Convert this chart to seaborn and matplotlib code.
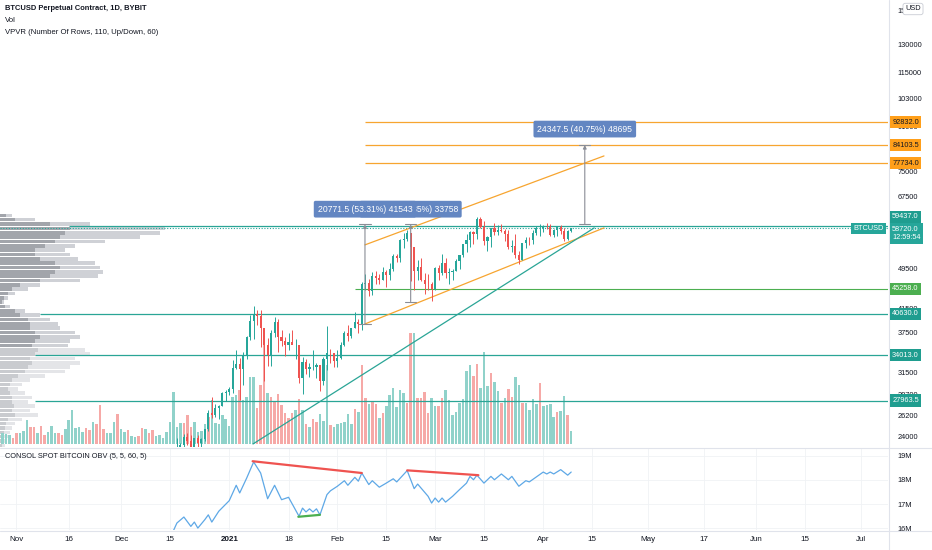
import numpy as np
import pandas as pd
import matplotlib
matplotlib.use("Agg")
import matplotlib.pyplot as plt
from matplotlib.lines import Line2D
from matplotlib.ticker import NullLocator
import seaborn as sns

# ---------------------------------------------------------------
# Data (x = days counted from 1 Jan 2021)
# ---------------------------------------------------------------
vol_start_day = -66
volume = [12, 11, 10, 9, 6, 11, 11, 13, 24, 17, 17, 11, 18, 9, 12, 18, 11, 11, 9, 15,
          24, 34, 16, 17, 12, 16, 14, 22, 20, 39, 15, 11, 11, 22, 30, 15, 12, 14, 8, 7,
          8, 16, 15, 11, 14, 8, 9, 6, 12, 22, 52, 17, 21, 21, 29, 17, 22, 12, 13, 20,
          27, 44, 21, 20, 29, 25, 18, 47, 49, 54, 44, 47, 67, 67, 36, 59, 111, 51, 47, 42,
          50, 39, 31, 26, 31, 34, 45, 34, 20, 17, 25, 22, 30, 23, 79, 19, 17, 20, 21, 22,
          30, 20, 35, 32, 79, 46, 40, 43, 40, 26, 31, 38, 49, 56, 37, 54, 51, 41, 111, 111,
          46, 46, 52, 31, 46, 38, 38, 46, 54, 44, 29, 32, 41, 45, 73, 79, 68, 80, 56, 92,
          58, 71, 62, 53, 41, 46, 55, 47, 67, 59, 41, 41, 34, 45, 40, 61, 38, 39, 40, 27,
          32, 33, 48, 29, 13]
vol_dir = ("rgggrrgggrrgrrgggrrggggggrrgrrrgggrggrggrrgrrggggggggrrrgg"
           "ggrggggggggrggggrrrgrrrrrrrgrgrgrrgggrggggggrgrrgrrgrggggggrr"
           "grrrrggrrggggggggrrgggrggrgrrggrggggrggggrgg")

candle_start_day = -16
opens = [19430, 21310, 22800, 23130, 23860, 23480, 22740, 23820, 23240, 23730, 24710, 26490,
         26280, 27080, 27360, 28890, 29000, 29380, 32130, 32780, 31970, 33990, 36820, 39370,
         40670, 40240, 38240, 35540, 34010, 37390, 39150, 36830, 36070, 35550, 36020, 35540,
         35600, 30810, 33000, 32100, 32280, 32370, 32570, 30430, 33470, 34320, 34290, 33110,
         33540, 35510, 37470, 36930, 38290, 39260, 38900, 46200, 46480, 44920, 47910, 47500,
         47100, 48720, 47940, 49200, 52150, 51680, 55890, 56100, 57540, 54200, 48820, 49700,
         47070, 46300, 46150, 45240, 49610, 48380, 50540, 48370, 48760, 48880, 50970, 52380,
         54880, 55960, 57750, 57230, 61190, 59000, 55640, 56470, 58810, 57870, 58350, 58110,
         57400, 54090, 54340, 52300, 51300, 55070, 55840, 55780, 57630, 58730, 58920, 59100,
         59000, 57080, 58200, 59130, 57990, 56000, 58090]
highs = [21560, 23750, 23290, 24170, 24280, 24100, 23830, 24110, 23790, 24770, 26870, 28400,
         27500, 27400, 28990, 29300, 29650, 33300, 34780, 33650, 34500, 36950, 40380, 41950,
         41400, 41400, 38300, 36600, 37850, 40100, 39700, 37900, 36800, 37400, 37850, 36400,
         35600, 33800, 33500, 32900, 34800, 32900, 32570, 33800, 38500, 34900, 34300, 34700,
         36000, 37700, 38700, 38300, 40900, 39700, 46700, 48200, 47300, 48600, 48900, 48200,
         49700, 49000, 50600, 52600, 52500, 56200, 57500, 58350, 57540, 54200, 51300, 51800,
         48400, 48300, 46550, 49800, 50200, 52600, 51800, 49500, 49200, 51400, 52400, 54900,
         57300, 58100, 58000, 61800, 61600, 60600, 56900, 58900, 60000, 59500, 59900, 58600,
         58400, 55800, 57200, 53200, 55100, 56600, 56600, 58400, 59400, 59800, 59500, 60100,
         59800, 58500, 59300, 59500, 58700, 58200, 58900]
lows = [19300, 21240, 22350, 22780, 23070, 21900, 22380, 22700, 22700, 23450, 24500, 25900,
        26100, 25880, 27320, 27900, 28700, 28950, 32000, 28000, 29900, 33400, 36300, 36500,
        38700, 35200, 30400, 32500, 32400, 36700, 34400, 35400, 33900, 34800, 35900, 33400,
        30100, 28800, 31400, 30900, 31900, 30800, 29200, 29900, 31900, 32900, 32300, 32300,
        33450, 35400, 36200, 36600, 38200, 37400, 37900, 45000, 43800, 44100, 46300, 46200,
        47000, 45600, 47100, 48900, 50900, 50900, 53900, 55500, 46800, 45000, 47100, 46900,
        44200, 45100, 43000, 45000, 47100, 48100, 47500, 46300, 47100, 48800, 49300, 51900,
        53100, 54300, 55000, 56100, 58900, 54600, 53300, 54200, 57100, 57000, 57900, 55500,
        53700, 53000, 51700, 50400, 51300, 53900, 54700, 54900, 57000, 56900, 57900, 58500,
        56900, 56600, 56800, 57300, 55500, 55800, 57700]
closes = [21310, 22800, 23130, 23860, 23480, 22740, 23820, 23240, 23730, 24710, 26490, 26280,
          27080, 27360, 28890, 29000, 29380, 32130, 32780, 31970, 33990, 36820, 39370, 40670,
          40240, 38240, 35540, 34010, 37390, 39150, 36830, 36070, 35550, 36020, 35540, 35600,
          30810, 33000, 32100, 32280, 32370, 32570, 30430, 33470, 34320, 34290, 33110, 33540,
          35510, 37470, 36930, 38290, 39260, 38900, 46200, 46480, 44920, 47910, 47500, 47100,
          48720, 47940, 49200, 52150, 51680, 55890, 56100, 57540, 54200, 48820, 49700, 47070,
          46300, 46150, 45240, 49610, 48380, 50540, 48370, 48760, 48880, 50970, 52380, 54880,
          55960, 57750, 57230, 61190, 59000, 55640, 56470, 58810, 57870, 58350, 58110, 57400,
          54090, 54340, 52300, 51300, 55070, 55840, 55780, 57630, 58730, 58920, 59100, 59000,
          57080, 58200, 59130, 57990, 56000, 58090, 58720]

# visible-range volume profile, rows from top (62.8k) to bottom (22.9k)
vp_price_top = 62800
vp_price_bottom = 22890
vp_total = [12, 35, 90, 165, 160, 140, 105, 75, 65, 70, 78, 95, 100, 103, 98, 80, 40, 28,
            15, 8, 4, 10, 25, 40, 50, 58, 60, 75, 80, 70, 68, 85, 90, 75, 80, 70, 65, 45,
            30, 22, 18, 25, 32, 28, 35, 30, 38, 22, 15, 12, 10, 8, 6, 5]
vp_up = [6, 15, 50, 70, 65, 60, 55, 45, 35, 35, 40, 55, 60, 55, 50, 40, 20, 12,
         8, 4, 2, 5, 15, 20, 28, 30, 30, 35, 40, 35, 32, 38, 35, 30, 32, 28, 25, 18,
         12, 10, 8, 10, 12, 12, 14, 12, 15, 8, 6, 5, 4, 3, 2, 2]

obv_days = [-16, -15, -13, -11, -10, -9, -7, -6, -5, -3, 0, 2, 3, 5, 7, 9, 11, 13, 15, 17,
            20, 21, 22, 23, 24, 25, 26, 28, 29, 31, 33, 34, 36, 37, 38, 40, 41, 43, 45, 47,
            48, 51, 53, 54, 57, 58, 59, 60, 61, 62, 64, 66, 68, 69, 70, 71, 73, 75, 76, 78,
            80, 81, 83, 85, 86, 90, 91, 92, 93, 95, 97, 98]
obv_vals = [15.89, 16.21, 16.46, 16.07, 16.25, 16.0, 16.35, 16.55, 16.25, 16.7, 17.14, 17.78,
            17.46, 18.08, 18.75, 18.29, 17.22, 17.78, 17.18, 17.28, 16.49, 16.83, 16.67, 16.8,
            16.67, 16.8, 16.55, 17.39, 17.55, 17.74, 17.97, 17.78, 18.11, 17.95, 18.29, 17.81,
            17.97, 17.7, 17.87, 18.05, 17.92, 18.39, 17.64, 17.83, 17.32, 17.04, 17.25, 17.08,
            17.25, 17.08, 17.32, 17.6, 17.87, 18.15, 18.01, 18.2, 17.87, 18.15, 18.01, 18.25,
            18.01, 18.15, 17.74, 17.97, 17.92, 18.33, 18.25, 18.33, 18.25, 18.43, 18.2, 18.33]
obv_red_1 = ([6.7, 38.0], [18.78, 18.29])
obv_red_2 = ([51.0, 71.4], [18.40, 18.20])
obv_green = ([19.8, 26.0], [16.47, 16.55])

orange_levels = [92832.0, 84103.5, 77734.0]
teal_levels = [40630.0, 34013.0, 27963.5]
teal_level_start = [-54.3, -55.7, -55.7]
green_level = 45258.0
resist_level = 59437.0
last_price = 58720.0

channel_days = [38.9, 107.4]
channel_top = [54700, 80250]
channel_bottom = [38900, 58850]
trend_days = [6.8, 104.6]
trend_prices = [23190, 58850]

measure_days = [38.9, 52.0, 101.9]
measure_from = [38958.0, 42850.0, 59756.0]
measure_to = [59729.5, 59729.0, 84103.5]
measure_text = ["20771.5 (53.31%) 41543", "16879.0 (39.35%) 33758", "24347.5 (40.75%) 48695"]

price_ticks = [24000, 26200, 28700, 31500, 37500, 41500, 49500,
               67500, 75000, 91000, 103000, 115000, 130000, 150000]
date_ticks = [-61, -46, -31, -17, 0, 17, 31, 45, 59, 73, 90, 104, 120, 136, 151, 165, 181]
date_labels = ["Nov", "16", "Dec", "15", "2021", "18", "Feb", "15", "Mar", "15",
               "Apr", "15", "May", "17", "Jun", "15", "Jul"]

# ---------------------------------------------------------------
# Style
# ---------------------------------------------------------------
sns.set_theme(style="white")
plt.rcParams["font.family"] = ["Liberation Sans", "DejaVu Sans"]

UP, DOWN = "#26a69a", "#ef5350"
TEXT = "#131722"
ORANGE = "#f7a530"
TEAL = "#2aa596"
GREEN = "#4caf50"
GRID = "#f0f2f5"
BORDER = "#e0e3eb"
W, H = 932, 550
X_LEFT, X_RIGHT = -65.7, 188.8


def rect(x0, y0, x1, y1):
    return [x0 / W, 1 - y1 / H, (x1 - x0) / W, (y1 - y0) / H]


fig = plt.figure(figsize=(W / 100, H / 100), dpi=100)
fig.patch.set_facecolor("white")

ax = fig.add_axes(rect(0, 0, 888, 447))
ax.set_yscale("log")
axv = ax.twinx()   # volume overlay
axp = ax.twiny()   # visible range volume profile
axp.set_zorder(0)
axv.set_zorder(1)
ax.set_zorder(2)
ax.patch.set_visible(False)
axv.patch.set_visible(False)
axp.patch.set_facecolor("white")

axo = fig.add_axes(rect(0, 448, 888, 530), sharex=ax)

for a in (ax, axv, axp, axo):
    for s in a.spines.values():
        s.set_visible(False)

ax.set_xlim(X_LEFT, X_RIGHT)
ax.set_ylim(vp_price_bottom, 157150)

# ---------------- volume profile ----------------
edges = np.geomspace(vp_price_bottom, vp_price_top, len(vp_total) + 1)
tot = np.array(vp_total[::-1], dtype=float)
upv = np.array(vp_up[::-1], dtype=float)

# value area: 70% of volume around the point of control
inside = np.zeros(len(tot), dtype=bool)
lo = hi = int(np.argmax(tot))
inside[lo] = True
acc = tot[lo]
while acc < 0.7 * tot.sum():
    below = tot[lo - 1] if lo > 0 else -1
    above = tot[hi + 1] if hi < len(tot) - 1 else -1
    if above >= below:
        hi += 1
        acc += tot[hi]
        inside[hi] = True
    else:
        lo -= 1
        acc += tot[lo]
        inside[lo] = True

row_h = np.diff(edges) * 0.8
axp.barh(edges[:-1], tot, height=row_h, align="edge", linewidth=0,
         color=np.where(inside, "#cfd1d6", "#e4e5e8"))
axp.barh(edges[:-1], upv, height=row_h, align="edge", linewidth=0,
         color=np.where(inside, "#a2a5ab", "#c9cbcf"))
axp.set_xlim(0, 888)
axp.tick_params(axis="both", which="both", top=False, bottom=False, left=False, right=False,
                labeltop=False, labelbottom=False, labelleft=False, labelright=False)
axp.grid(axis="y", color=GRID, lw=0.6)
axp.set_axisbelow(True)

# ---------------- volume ----------------
vdays = np.arange(vol_start_day, vol_start_day + len(volume))
vcolors = ["#90d2ca" if c == "g" else "#f6a9a7" for c in vol_dir]
axv.bar(vdays, volume, width=0.72, color=vcolors, linewidth=0)
axv.set_ylim(-3, 444)
axv.tick_params(axis="both", which="both", left=False, right=False, bottom=False,
                labelleft=False, labelright=False, labelbottom=False)
axv.grid(axis="x", color=GRID, lw=0.6)
axv.set_axisbelow(True)

# ---------------- levels & drawings ----------------
ax.hlines(last_price, X_LEFT, X_RIGHT, colors=UP, lw=0.8, linestyles=(0, (1, 1.5)), zorder=1)
ax.hlines(resist_level, -46, X_RIGHT, colors=TEAL, lw=0.9, zorder=2)
for lvl, start in zip(teal_levels, teal_level_start):
    ax.hlines(lvl, start, X_RIGHT, colors=TEAL, lw=0.9, zorder=2)
ax.hlines(green_level, 36.0, X_RIGHT, colors=GREEN, lw=0.8, zorder=2)
for lvl in orange_levels:
    ax.hlines(lvl, channel_days[0], X_RIGHT, colors=ORANGE, lw=0.9, zorder=2)

ax.plot(channel_days, channel_top, color=ORANGE, lw=0.9, zorder=3)
ax.plot(channel_days, channel_bottom, color=ORANGE, lw=0.9, zorder=3)
ax.plot(trend_days, trend_prices, color=TEAL, lw=0.9, zorder=3)

# ---------------- candles ----------------
candles = pd.DataFrame({"open": opens, "high": highs, "low": lows, "close": closes})
candles["day"] = np.arange(candle_start_day, candle_start_day + len(candles))
rising = candles["close"] >= candles["open"]
ccol = np.where(rising, UP, DOWN)
ax.vlines(candles["day"], candles["low"], candles["high"], colors=ccol, lw=0.7, zorder=5)
body_lo = np.minimum(candles["open"], candles["close"])
body_h = (candles["close"] - candles["open"]).abs()
ax.bar(candles["day"], body_h, bottom=body_lo, width=0.62, color=ccol, linewidth=0, zorder=6)

# ---------------- measure tool ----------------
for i, (d, p0, p1, txt) in enumerate(zip(measure_days, measure_from, measure_to, measure_text)):
    ax.annotate("", xy=(d, p1), xytext=(d, p0),
                arrowprops=dict(arrowstyle="-|>", color="#8a8d96", lw=0.8,
                                mutation_scale=5, shrinkA=0, shrinkB=0), zorder=7)
    ax.plot([d - 1.6, d + 1.6], [p0, p0], color="#8a8d96", lw=0.8, zorder=7)
    ax.plot([d - 1.6, d + 1.6], [p1, p1], color="#8a8d96", lw=0.8, zorder=7)
    ax.annotate(txt, xy=(d, p1), xytext=(0, 11 if i < 2 else 11.5), textcoords="offset points",
                ha="center", va="center", fontsize=6.2, color="white", zorder=9 if i != 1 else 8,
                bbox=dict(boxstyle="round,pad=0.45,rounding_size=0.2", fc="#6386c2", ec="none"))

# ---------------- price axis ----------------
ax.yaxis.tick_right()
ax.set_yticks(price_ticks)
ax.set_yticklabels([str(t) for t in price_ticks])
ax.yaxis.set_minor_locator(NullLocator())
ax.tick_params(axis="y", labelsize=5.3, labelcolor=TEXT, length=0, pad=7)
ax.tick_params(axis="x", bottom=False, labelbottom=False)
ytr = ax.get_yaxis_transform()


def price_tag(level, text, fc, tc="white", dy=0.0):
    ax.annotate(text, xy=(1.0, level), xycoords=ytr, xytext=(3, dy), textcoords="offset points",
                ha="left", va="center", fontsize=5.3, color=tc, zorder=10, annotation_clip=False,
                linespacing=1.25,
                bbox=dict(boxstyle="square,pad=0.35", fc=fc, ec="none"))


for lvl in orange_levels:
    price_tag(lvl, f"{lvl:.1f}", "#ff9f1a", tc=TEXT)
price_tag(resist_level, f"{resist_level:.1f}", "#1f9d8f", dy=6.2)
price_tag(last_price, f"{last_price:.1f}\n12:59:54", UP, dy=-3.6)
price_tag(green_level, f"{green_level:.1f}", GREEN)
for lvl in teal_levels:
    price_tag(lvl, f"{lvl:.1f}", "#1f9d8f")
ax.annotate("BTCUSD", xy=(884 / 888, last_price), xycoords=ytr, ha="right", va="center",
            fontsize=5.3, color="white", zorder=10,
            bbox=dict(boxstyle="square,pad=0.3", fc=UP, ec="none"))

# ---------------- OBV pane ----------------
sns.lineplot(x=obv_days, y=obv_vals, ax=axo, color="#5ea8e6", linewidth=0.9,
             estimator=None, sort=False)
axo.plot(*obv_red_1, color="#ef5350", lw=1.6)
axo.plot(*obv_red_2, color="#ef5350", lw=1.6)
axo.plot(*obv_green, color=GREEN, lw=1.6)
axo.set_ylim(15.92, 19.33)
axo.yaxis.tick_right()
axo.set_yticks([16, 17, 18, 19])
axo.set_yticklabels(["16M", "17M", "18M", "19M"])
axo.tick_params(axis="y", labelsize=5.3, labelcolor=TEXT, length=0, pad=7)
axo.set_xticks(date_ticks)
axo.set_xticklabels(date_labels)
axo.tick_params(axis="x", labelsize=5.8, labelcolor=TEXT, length=0, pad=4)
for lab in axo.get_xticklabels():
    if lab.get_text() == "2021":
        lab.set_fontweight("bold")
axo.set_xlabel("")
axo.set_ylabel("")
axo.grid(color=GRID, lw=0.6)
axo.set_axisbelow(True)
ax.set_xlim(X_LEFT, X_RIGHT)

# ---------------- frame lines & captions ----------------
for (x0, y0, x1, y1) in [(0, 447.5, W, 447.5), (0, 530.5, W, 530.5), (888.5, 0, 888.5, H)]:
    fig.add_artist(Line2D([x0 / W, x1 / W], [1 - y0 / H, 1 - y1 / H],
                          transform=fig.transFigure, color=BORDER, lw=0.8))

fig.text(5 / W, 1 - 9 / H, "BTCUSD Perpetual Contract, 1D, BYBIT", fontsize=5.4,
         fontweight="bold", color=TEXT, va="center")
fig.text(5 / W, 1 - 21 / H, "Vol", fontsize=5.6, color=TEXT, va="center")
fig.text(5 / W, 1 - 33 / H, "VPVR (Number Of Rows, 110, Up/Down, 60)", fontsize=5.6,
         color=TEXT, va="center")
fig.text(5 / W, 1 - 457 / H, "CONSOL SPOT BITCOIN OBV (5, 5, 60, 5)", fontsize=5.3,
         color=TEXT, va="center")
fig.text(913 / W, 1 - 9 / H, "USD", fontsize=5.3, color=TEXT, va="center", ha="center",
         zorder=10,
         bbox=dict(boxstyle="round,pad=0.3,rounding_size=0.3", fc="white", ec="#c9ccd4", lw=0.6))

fig.savefig("out.png", dpi=100, facecolor="white")
